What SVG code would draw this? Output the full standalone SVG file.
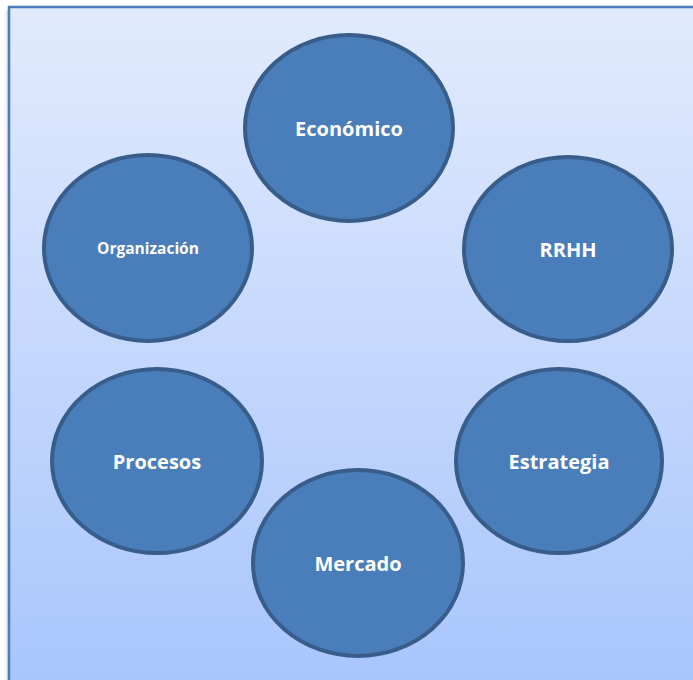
<svg xmlns="http://www.w3.org/2000/svg" width="693" height="680" viewBox="0 0 693 680">
<defs>
<linearGradient id="bg" x1="0" y1="0" x2="0" y2="1">
<stop offset="0" stop-color="#e2ebfd"/>
<stop offset="1" stop-color="#a8c5fc"/>
</linearGradient>
<linearGradient id="sh" x1="0" y1="0" x2="1" y2="0">
<stop offset="0" stop-color="#ffffff" stop-opacity="0"/>
<stop offset="1" stop-color="#c8c8c8"/>
</linearGradient>
</defs>
<style>
.node ellipse{fill:#4a7ebb;stroke:#385d8a;stroke-width:4}
.node text{fill:#ffffff;font-family:"Open Sans","Liberation Sans",sans-serif;font-weight:bold;text-anchor:middle;dominant-baseline:central}
.big{font-size:20px}
.small{font-size:15.5px}
</style>
<rect x="0" y="0" width="693" height="680" fill="#ffffff"/>
<rect x="3" y="10" width="6" height="670" fill="url(#sh)"/>
<rect x="9" y="7" width="690" height="680" fill="url(#bg)" stroke="#4a7ebb" stroke-width="2.5"/>
<g id="economico" class="node"><ellipse cx="349" cy="128" rx="104" ry="93"/><text class="big" x="349" y="128">Económico</text></g>
<g id="organizacion" class="node"><ellipse cx="148" cy="248" rx="104" ry="93"/><text class="small" x="148" y="248">Organización</text></g>
<g id="rrhh" class="node"><ellipse cx="568" cy="249" rx="104" ry="92"/><text class="big" x="568" y="249">RRHH</text></g>
<g id="procesos" class="node"><ellipse cx="157" cy="461" rx="105" ry="92"/><text class="big" x="157" y="461">Procesos</text></g>
<g id="estrategia" class="node"><ellipse cx="559" cy="461" rx="103" ry="92"/><text class="big" x="559" y="461">Estrategia</text></g>
<g id="mercado" class="node"><ellipse cx="358" cy="563" rx="105" ry="93"/><text class="big" x="358" y="563">Mercado</text></g>
<g id="connectors"></g>
</svg>
